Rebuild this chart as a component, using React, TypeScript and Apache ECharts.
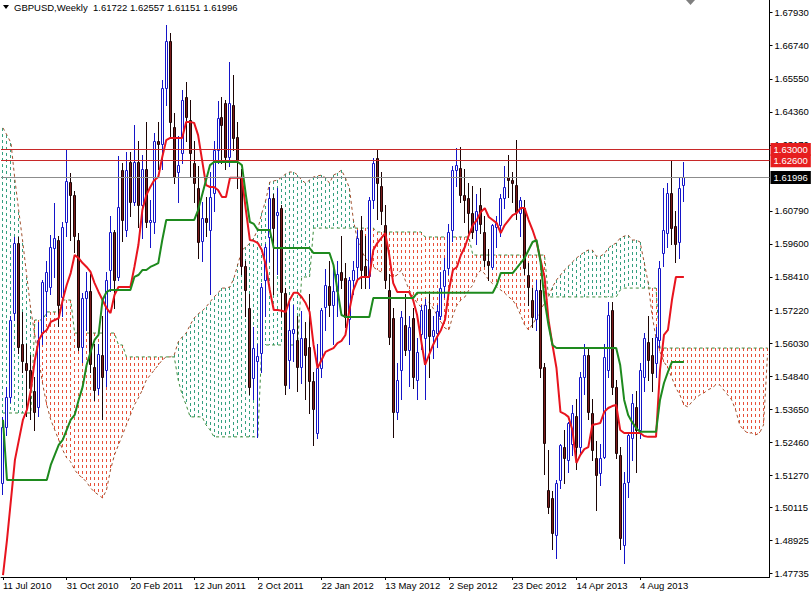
import React, { useEffect, useRef } from 'react';
import * as echarts from 'echarts';

const startWeek = '2010-07-11';
const totalWeeks = 193;
const xTickLabels = ['11 Jul 2010', '31 Oct 2010', '20 Feb 2011', '12 Jun 2011', '2 Oct 2011', '22 Jan 2012', '13 May 2012', '2 Sep 2012', '23 Dec 2012', '14 Apr 2013', '4 Aug 2013'];
const yTickLabels = [1.47735, 1.48925, 1.50115, 1.5127, 1.5246, 1.5365, 1.5484, 1.5603, 1.5722, 1.5841, 1.596, 1.6079, 1.6317, 1.6436, 1.6555, 1.6674, 1.6793];
const yMin = 1.47602;
const yMax = 1.68387;

const opens = [
  1.5100, 1.5300, 1.5410, 1.5710, 1.5962, 1.5600, 1.5530, 1.5505, 1.5430, 1.5373,
  1.5640, 1.5790, 1.5806, 1.5945, 1.5974, 1.5770, 1.6040, 1.6184, 1.6136, 1.5974,
  1.5590, 1.5765, 1.5790, 1.5518, 1.5442, 1.5560, 1.5506, 1.5866, 1.6004, 1.5842,
  1.6226, 1.6010, 1.6256, 1.6112, 1.6256, 1.6100, 1.6230, 1.6040, 1.6040, 1.6330,
  1.6320, 1.6520, 1.6690, 1.6380, 1.6219, 1.6287, 1.6490, 1.6406, 1.6250, 1.6162,
  1.5970, 1.6053, 1.6010, 1.6144, 1.6299, 1.6418, 1.6467, 1.6273, 1.6461, 1.6346,
  1.6200, 1.5880, 1.5730, 1.5476, 1.5540, 1.5566, 1.5830, 1.5986, 1.6125, 1.6064,
  1.6090, 1.5784, 1.5542, 1.5640, 1.5614, 1.5517, 1.5620, 1.5587, 1.5466, 1.5280,
  1.5513, 1.5733, 1.5810, 1.5740, 1.5790, 1.5860, 1.5837, 1.5690, 1.5830, 1.5878,
  1.6010, 1.5880, 1.5846, 1.6118, 1.6270, 1.6170, 1.6028, 1.5794, 1.5693, 1.5356,
  1.5506, 1.5669, 1.5578, 1.5693, 1.5470, 1.5635, 1.5620, 1.5725, 1.5630, 1.5640,
  1.5700, 1.5810, 1.5873, 1.6010, 1.6226, 1.6233, 1.6136, 1.6125, 1.6071, 1.6010,
  1.6100, 1.6004, 1.5900, 1.5877, 1.6020, 1.6028, 1.6125, 1.6200, 1.6190, 1.6172,
  1.6070, 1.6089, 1.5848, 1.5758, 1.5690, 1.5794, 1.5518, 1.5074, 1.5044, 1.4911,
  1.5110, 1.5230, 1.5180, 1.5240, 1.5340, 1.5228, 1.5480, 1.5560, 1.5351, 1.5188,
  1.5135, 1.5194, 1.5506, 1.5722, 1.5446, 1.5200, 1.4876, 1.5104, 1.5260, 1.5374,
  1.5290, 1.5480, 1.5608, 1.5560, 1.5530, 1.5614, 1.5928, 1.5998, 1.6143, 1.6024,
  1.5968, 1.61722
];
const highs = [
  1.5335, 1.5445, 1.5700, 1.5986, 1.5985, 1.5715, 1.5600, 1.5560, 1.5480, 1.5680,
  1.5830, 1.5900, 1.5992, 1.6106, 1.5990, 1.6040, 1.6298, 1.6215, 1.6150, 1.5998,
  1.5785, 1.5860, 1.5850, 1.5600, 1.5600, 1.5700, 1.5860, 1.6060, 1.6010, 1.6275,
  1.6250, 1.6290, 1.6290, 1.6387, 1.6330, 1.6280, 1.6400, 1.6120, 1.6360, 1.6400,
  1.6550, 1.6747, 1.6720, 1.6430, 1.6350, 1.6515, 1.6545, 1.6480, 1.6330, 1.6240,
  1.6110, 1.6130, 1.6220, 1.6330, 1.6475, 1.6490, 1.6480, 1.6617, 1.6570, 1.6400,
  1.6230, 1.5900, 1.5780, 1.5660, 1.5600, 1.5820, 1.5960, 1.6166, 1.6140, 1.6160,
  1.6100, 1.5800, 1.5760, 1.5740, 1.5700, 1.5720, 1.5680, 1.5780, 1.5500, 1.5600,
  1.5730, 1.5870, 1.5900, 1.5880, 1.5900, 1.5990, 1.5890, 1.5840, 1.5900, 1.6010,
  1.6060, 1.5990, 1.6130, 1.6270, 1.6301, 1.6220, 1.6100, 1.5850, 1.5730, 1.5530,
  1.5720, 1.5780, 1.5700, 1.5730, 1.5620, 1.5740, 1.5760, 1.5780, 1.5700, 1.5740,
  1.5860, 1.5910, 1.6030, 1.6240, 1.6305, 1.6310, 1.6230, 1.6180, 1.6170, 1.6140,
  1.6160, 1.6060, 1.5940, 1.6030, 1.6060, 1.6140, 1.6240, 1.6281, 1.6220, 1.6334,
  1.6130, 1.6120, 1.5890, 1.5800, 1.5830, 1.5830, 1.5530, 1.5218, 1.5070, 1.5110,
  1.5240, 1.5290, 1.5320, 1.5380, 1.5400, 1.5500, 1.5600, 1.5580, 1.5400, 1.5250,
  1.5240, 1.5600, 1.5750, 1.5750, 1.5470, 1.5230, 1.5140, 1.5280, 1.5420, 1.5430,
  1.5530, 1.5640, 1.5700, 1.5620, 1.5660, 1.5900, 1.6160, 1.6180, 1.6258, 1.6080,
  1.6200, 1.62557
];
const lows = [
  1.5060, 1.5270, 1.5390, 1.5686, 1.5567, 1.5500, 1.5340, 1.5330, 1.5290, 1.5340,
  1.5600, 1.5700, 1.5780, 1.5840, 1.5665, 1.5700, 1.5990, 1.5975, 1.5930, 1.5578,
  1.5535, 1.5650, 1.5500, 1.5398, 1.5420, 1.5330, 1.5450, 1.5790, 1.5730, 1.5830,
  1.5970, 1.5990, 1.6060, 1.6100, 1.6020, 1.5980, 1.6020, 1.5950, 1.6000, 1.6230,
  1.6230, 1.6460, 1.6350, 1.6180, 1.6110, 1.6250, 1.6330, 1.6200, 1.6110, 1.5911,
  1.5900, 1.5990, 1.5780, 1.6080, 1.6250, 1.6250, 1.6230, 1.6240, 1.6300, 1.6160,
  1.5850, 1.5700, 1.5420, 1.5400, 1.5266, 1.5500, 1.5700, 1.5900, 1.5780, 1.5850,
  1.5700, 1.5420, 1.5440, 1.5540, 1.5430, 1.5460, 1.5400, 1.5350, 1.5234, 1.5260,
  1.5480, 1.5650, 1.5700, 1.5600, 1.5700, 1.5800, 1.5660, 1.5600, 1.5780, 1.5830,
  1.5800, 1.5800, 1.5800, 1.6090, 1.6050, 1.6030, 1.5800, 1.5600, 1.5266, 1.5330,
  1.5400, 1.5560, 1.5450, 1.5440, 1.5400, 1.5580, 1.5400, 1.5480, 1.5550, 1.5590,
  1.5690, 1.5770, 1.5850, 1.5970, 1.6170, 1.6110, 1.6040, 1.6000, 1.5980, 1.5960,
  1.6000, 1.5880, 1.5830, 1.5870, 1.5950, 1.5990, 1.6090, 1.6130, 1.6110, 1.6050,
  1.5990, 1.5850, 1.5740, 1.5660, 1.5650, 1.5480, 1.5132, 1.4990, 1.4860, 1.4828,
  1.5080, 1.5100, 1.5140, 1.5200, 1.5150, 1.5200, 1.5420, 1.5330, 1.5180, 1.5000,
  1.5090, 1.5190, 1.5480, 1.5420, 1.5190, 1.4860, 1.4811, 1.5050, 1.5180, 1.5140,
  1.5260, 1.5430, 1.5470, 1.5430, 1.5480, 1.5590, 1.5880, 1.5950, 1.5960, 1.5895,
  1.5910, 1.61151
];
const closes = [
  1.5300, 1.5410, 1.5685, 1.5962, 1.5590, 1.5540, 1.5505, 1.5440, 1.5355, 1.5614,
  1.5824, 1.5860, 1.5950, 1.5980, 1.5740, 1.6022, 1.6185, 1.6136, 1.5990, 1.5590,
  1.5765, 1.5790, 1.5526, 1.5434, 1.5565, 1.5480, 1.5830, 1.6004, 1.5830, 1.6094,
  1.6046, 1.6226, 1.6112, 1.6256, 1.6100, 1.6230, 1.6040, 1.6045, 1.6330, 1.6320,
  1.6520, 1.6690, 1.6400, 1.6200, 1.6243, 1.6478, 1.6418, 1.6287, 1.6180, 1.5968,
  1.6053, 1.6040, 1.6130, 1.6299, 1.6414, 1.6388, 1.6273, 1.6467, 1.6342, 1.6262,
  1.5880, 1.5795, 1.5446, 1.5584, 1.5555, 1.5806, 1.5950, 1.6125, 1.6017, 1.6075,
  1.5788, 1.5452, 1.5650, 1.5655, 1.5517, 1.5620, 1.5560, 1.5466, 1.5366, 1.5513,
  1.5722, 1.5812, 1.5740, 1.5790, 1.5850, 1.5830, 1.5698, 1.5830, 1.5866, 1.5983,
  1.5866, 1.5846, 1.6118, 1.6252, 1.6180, 1.6080, 1.5830, 1.5626, 1.5356, 1.5470,
  1.5698, 1.5578, 1.5660, 1.5482, 1.5571, 1.5722, 1.5740, 1.5630, 1.5650, 1.5720,
  1.5800, 1.5866, 1.6004, 1.6226, 1.6243, 1.6136, 1.6120, 1.6071, 1.6004, 1.6080,
  1.6033, 1.5902, 1.5885, 1.6028, 1.6037, 1.6125, 1.6165, 1.6190, 1.6180, 1.6075,
  1.6118, 1.5873, 1.5806, 1.5698, 1.5794, 1.5512, 1.5242, 1.5014, 1.4918, 1.5098,
  1.5236, 1.5190, 1.5315, 1.5351, 1.5230, 1.5480, 1.5560, 1.5356, 1.5218, 1.5128,
  1.5188, 1.5554, 1.5705, 1.5446, 1.5206, 1.4900, 1.5098, 1.5272, 1.5387, 1.5290,
  1.5506, 1.5622, 1.5542, 1.5494, 1.5626, 1.5873, 1.6010, 1.6143, 1.6017, 1.5958,
  1.6161, 1.61996
];

const tenkan = [
  1.4767, 1.4893, 1.5038, 1.5182, 1.5254, 1.5326, 1.5362, 1.5434, 1.5542, 1.5614,
  1.5639, 1.5650, 1.5679, 1.5686, 1.5693, 1.5758, 1.5812, 1.5855, 1.5920, 1.5909,
  1.5891, 1.5877, 1.5859, 1.5819, 1.5787, 1.5758, 1.5729, 1.5711, 1.5776, 1.5805,
  1.5805, 1.5805, 1.5805, 1.5877, 1.5956, 1.6082, 1.6136, 1.6165, 1.6190, 1.6201,
  1.6273, 1.6334, 1.6342, 1.6342, 1.6342, 1.6342, 1.6399, 1.6399, 1.6396, 1.6352,
  1.6262, 1.6172, 1.6165, 1.6165, 1.6154, 1.6129, 1.6129, 1.6198, 1.6198, 1.6198,
  1.6198, 1.6082, 1.5974, 1.5971, 1.5963, 1.5938, 1.5884, 1.5794, 1.5722, 1.5722,
  1.5719, 1.5715, 1.5758, 1.5784, 1.5784, 1.5769, 1.5747, 1.5715, 1.5596, 1.5513,
  1.5542, 1.5571, 1.5578, 1.5585, 1.5603, 1.5611, 1.5632, 1.5722, 1.5794, 1.5830,
  1.5841, 1.5841, 1.5841, 1.5938, 1.5963, 1.5981, 1.5999, 1.5920, 1.5819, 1.5787,
  1.5787, 1.5787, 1.5787, 1.5758, 1.5704, 1.5614, 1.5524, 1.5560, 1.5596, 1.5625,
  1.5650, 1.5686, 1.5794, 1.5866, 1.5877, 1.5920, 1.5949, 1.5992, 1.6028, 1.6046,
  1.6075, 1.6089, 1.6057, 1.6046, 1.6035, 1.5999, 1.6028, 1.6046, 1.6064, 1.6071,
  1.6089, 1.6089, 1.6046, 1.6010, 1.5967, 1.5902, 1.5841, 1.5686, 1.5596, 1.5513,
  1.5355, 1.5348, 1.5337, 1.5290, 1.5171, 1.5200, 1.5221, 1.5228, 1.5308, 1.5311,
  1.5315, 1.5355, 1.5369, 1.5376, 1.5380, 1.5290, 1.5279, 1.5279, 1.5279, 1.5279,
  1.5279, 1.5268, 1.5265, 1.5265, 1.5265, 1.5506, 1.5632, 1.5650, 1.5758, 1.5841,
  1.5841, 1.5841
];
const kijun = [
  1.5326, 1.5110, 1.5110, 1.5110, 1.5110, 1.5110, 1.5110, 1.5110, 1.5110, 1.5110,
  1.5110, 1.5110, 1.5164, 1.5200, 1.5236, 1.5254, 1.5290, 1.5326, 1.5344, 1.5398,
  1.5445, 1.5524, 1.5571, 1.5614, 1.5632, 1.5758, 1.5787, 1.5794, 1.5794, 1.5794,
  1.5794, 1.5794, 1.5794, 1.5841, 1.5848, 1.5866, 1.5866, 1.5877, 1.5884, 1.5891,
  1.5974, 1.6046, 1.6046, 1.6046, 1.6046, 1.6046, 1.6046, 1.6046, 1.6046, 1.6082,
  1.6136, 1.6190, 1.6244, 1.6255, 1.6255, 1.6255, 1.6255, 1.6255, 1.6255, 1.6255,
  1.6244, 1.6136, 1.6039, 1.6032, 1.6010, 1.6010, 1.6010, 1.6010, 1.5945, 1.5945,
  1.5945, 1.5945, 1.5945, 1.5945, 1.5945, 1.5945, 1.5945, 1.5945, 1.5927, 1.5927,
  1.5927, 1.5927, 1.5927, 1.5884, 1.5794, 1.5704, 1.5697, 1.5697, 1.5697, 1.5697,
  1.5697, 1.5697, 1.5697, 1.5765, 1.5765, 1.5765, 1.5765, 1.5765, 1.5765, 1.5765,
  1.5765, 1.5765, 1.5765, 1.5765, 1.5784, 1.5784, 1.5784, 1.5784, 1.5784, 1.5784,
  1.5784, 1.5784, 1.5784, 1.5784, 1.5784, 1.5784, 1.5784, 1.5784, 1.5784, 1.5784,
  1.5784, 1.5784, 1.5784, 1.5784, 1.5812, 1.5855, 1.5855, 1.5855, 1.5855, 1.5873,
  1.5891, 1.5909, 1.5938, 1.5967, 1.5974, 1.5895, 1.5758, 1.5668, 1.5596, 1.5585,
  1.5585, 1.5585, 1.5585, 1.5585, 1.5585, 1.5585, 1.5585, 1.5585, 1.5585, 1.5585,
  1.5585, 1.5585, 1.5585, 1.5585, 1.5585, 1.5524, 1.5398, 1.5344, 1.5318, 1.5297,
  1.5283, 1.5283, 1.5283, 1.5283, 1.5283, 1.5398, 1.5459, 1.5499, 1.5535, 1.5535,
  1.5535, 1.5535
];
const spanA = [
  1.6378, 1.6352, 1.6324, 1.6190, 1.6075, 1.5963, 1.5841, 1.5722, 1.5632, 1.5542,
  1.5452, 1.5380, 1.5326, 1.5290, 1.5254, 1.5218, 1.5189, 1.5175, 1.5146, 1.5128,
  1.5117, 1.5102, 1.5081, 1.5066, 1.5056, 1.5045, 1.5074, 1.5146, 1.5200, 1.5236,
  1.5272, 1.5308, 1.5344, 1.5380, 1.5405, 1.5434, 1.5470, 1.5488, 1.5506, 1.5524,
  1.5542, 1.5553, 1.5553, 1.5560, 1.5607, 1.5625, 1.5639, 1.5668, 1.5693, 1.5708,
  1.5718, 1.5733, 1.5751, 1.5769, 1.5783, 1.5801, 1.5801, 1.5805, 1.5837, 1.5888,
  1.5938, 1.5949, 1.5963, 1.5981, 1.6014, 1.6071, 1.6118, 1.6183, 1.6187, 1.6190,
  1.6201, 1.6212, 1.6219, 1.6219, 1.6208, 1.6190, 1.6179, 1.6190, 1.6201, 1.6205,
  1.6208, 1.6198, 1.6179, 1.6208, 1.6215, 1.6226, 1.6198, 1.6161, 1.6046, 1.5974,
  1.5938, 1.5909, 1.5891, 1.5877, 1.5866, 1.5859, 1.5855, 1.5848, 1.5841, 1.5848,
  1.5866, 1.5830, 1.5794, 1.5772, 1.5747, 1.5733, 1.5740, 1.5751, 1.5729, 1.5704,
  1.5679, 1.5657, 1.5650, 1.5704, 1.5740, 1.5758, 1.5769, 1.5794, 1.5812, 1.5848,
  1.5866, 1.5852, 1.5830, 1.5816, 1.5805, 1.5794, 1.5783, 1.5769, 1.5758, 1.5736,
  1.5704, 1.5668, 1.5650, 1.5671, 1.5693, 1.5722, 1.5747, 1.5769, 1.5805, 1.5830,
  1.5848, 1.5866, 1.5880, 1.5895, 1.5909, 1.5920, 1.5931, 1.5938, 1.5938, 1.5916,
  1.5916, 1.5924, 1.5945, 1.5956, 1.5963, 1.5981, 1.5988, 1.5992, 1.5974, 1.5974,
  1.5967, 1.5895, 1.5823, 1.5704, 1.5621, 1.5571, 1.5535, 1.5513, 1.5477, 1.5441,
  1.5416, 1.5380, 1.5373, 1.5391, 1.5405, 1.5416, 1.5423, 1.5434, 1.5441, 1.5452,
  1.5452, 1.5434, 1.5416, 1.5398, 1.5362, 1.5308, 1.5290, 1.5279, 1.5279, 1.5272,
  1.5279, 1.5308, 1.5560
];
// [fromIndex, toIndex, value] flat steps of Senkou Span B
const spanBRuns = [
  [0, 7, 1.5351], [8, 10, 1.5686], [11, 14, 1.5715], [15, 17, 1.5758], [18, 28, 1.5639],
  [29, 30, 1.5596], [31, 43, 1.5553], [44, 44, 1.547], [45, 45, 1.5416], [46, 46, 1.538],
  [47, 50, 1.5337], [51, 51, 1.5308], [52, 52, 1.529], [53, 64, 1.5265], [65, 74, 1.5596],
  [75, 77, 1.5841], [78, 93, 1.6017], [94, 105, 1.6003], [106, 117, 1.5985], [118, 136, 1.592],
  [137, 154, 1.5769], [155, 155, 1.5794], [156, 164, 1.5801], [165, 192, 1.5585]
];
const levelLines = [1.63, 1.626];
const symbolName = 'GBPUSD,Weekly';

const FONT = '"Liberation Sans", Arial, sans-serif';
const MONTHS = ['Jan', 'Feb', 'Mar', 'Apr', 'May', 'Jun', 'Jul', 'Aug', 'Sep', 'Oct', 'Nov', 'Dec'];
const BULL_EDGE = '#1414c8';
const BEAR_EDGE = '#1c0404';
const BEAR_FILL = '#7a1c1c';

function buildCategories(): string[] {
  const out: string[] = [];
  const t0 = Date.parse(startWeek + 'T00:00:00Z');
  for (let i = 0; i < totalWeeks; i++) {
    const d = new Date(t0 + i * 7 * 86400000);
    out.push(`${d.getUTCDate()} ${MONTHS[d.getUTCMonth()]} ${d.getUTCFullYear()}`);
  }
  return out;
}

export default function App() {
  const ref = useRef<HTMLDivElement>(null);
  useEffect(() => {
    if (!ref.current) return;
    const chart = echarts.init(ref.current, undefined, { renderer: 'svg' });
    const categories = buildCategories();
    const candleData = opens.map((o, i) => [i, o, closes[i], lows[i], highs[i]]);
    const spanB: number[] = new Array(totalWeeks).fill(NaN);
    spanBRuns.forEach(([a, b, v]) => {
      for (let k = a; k <= b; k++) spanB[k] = v;
    });
    const cloud = spanA.map((a, i) => [i, a, spanB[i]]);
    const last = opens.length - 1;
    const header = `${symbolName}  ${opens[last].toFixed(5)} ${highs[last].toFixed(5)} ${lows[last].toFixed(5)} ${closes[last].toFixed(5)}`;
    const bid = closes[last];
    const showTick = (idx: number, val: string) => xTickLabels.indexOf(val) >= 0;

    const tagLabel = (bg: string) => ({
      show: true,
      position: 'end',
      distance: 1,
      formatter: (p: any) => Number(p.value).toFixed(5),
      backgroundColor: bg,
      color: '#ffffff',
      fontFamily: FONT,
      fontSize: 9.5,
      padding: [2, 3, 1, 3],
    });

    chart.setOption({
      animation: false,
      backgroundColor: '#ffffff',
      grid: { left: -2.5, right: 42.5, top: 0, bottom: 17, containLabel: false },
      xAxis: {
        type: 'category',
        data: categories,
        boundaryGap: true,
        axisLine: { show: true, lineStyle: { color: '#000000', width: 1 } },
        axisTick: { show: true, interval: showTick, alignWithLabel: true, length: 3, lineStyle: { color: '#000000' } },
        axisLabel: {
          show: true,
          interval: showTick,
          align: 'left',
          margin: 3,
          color: '#000000',
          fontFamily: FONT,
          fontSize: 9.5,
        },
        splitLine: { show: false },
      },
      yAxis: {
        type: 'value',
        position: 'right',
        min: yMin,
        max: yMax,
        scale: true,
        axisLine: { show: true, lineStyle: { color: '#000000', width: 1 } },
        axisTick: { show: true, length: 3, customValues: yTickLabels, lineStyle: { color: '#000000' } },
        axisLabel: {
          show: true,
          customValues: yTickLabels,
          formatter: (v: number) => v.toFixed(5),
          margin: 5,
          color: '#000000',
          fontFamily: FONT,
          fontSize: 9.5,
        },
        splitLine: { show: false },
      },
      graphic: [
        { type: 'polygon', shape: { points: [[3, 5], [9, 5], [6, 9]] }, style: { fill: '#000000' }, z: 100 },
        { type: 'text', left: 14, top: 2, style: { text: header, fill: '#000000', font: `9.5px ${FONT}` }, z: 100 },
        { type: 'polygon', shape: { points: [[686, 0], [695, 0], [690.5, 5]] }, style: { fill: '#7f7f7f' }, z: 100 },
      ],
      series: [
        {
          type: 'custom',
          name: 'kumo',
          z: 1,
          clip: true,
          silent: true,
          encode: { x: 0, y: [1, 2] },
          data: cloud,
          renderItem: (params: any, api: any) => {
            const i = api.value(0);
            const a = api.value(1);
            const b = api.value(2);
            if (isNaN(a) || isNaN(b)) return null;
            const p1 = api.coord([i, a]);
            const p2 = api.coord([i, b]);
            const x = Math.floor(p1[0]) + 0.5;
            const y1 = Math.round(Math.min(p1[1], p2[1]));
            const y2 = Math.round(Math.max(p1[1], p2[1]));
            return {
              type: 'line',
              shape: { x1: x, y1, x2: x, y2 },
              style: { stroke: a >= b ? '#35a080' : '#e8503a', lineWidth: 1, lineDash: [3, 3] },
            };
          },
        },
        {
          type: 'line',
          name: 'Senkou A',
          z: 2,
          data: spanA,
          showSymbol: false,
          silent: true,
          lineStyle: { color: '#a0502d', width: 1, type: [3, 3] },
        },
        {
          type: 'line',
          name: 'Senkou B',
          z: 2,
          data: spanB.map((v) => (isNaN(v) ? null : v)),
          showSymbol: false,
          silent: true,
          lineStyle: { color: '#3c8c3c', width: 1, type: [3, 3] },
        },
        {
          type: 'custom',
          name: 'GBPUSD',
          z: 3,
          clip: true,
          silent: true,
          encode: { x: 0, y: [1, 2, 3, 4] },
          data: candleData,
          renderItem: (params: any, api: any) => {
            const i = api.value(0);
            const o = api.value(1);
            const c = api.value(2);
            const l = api.value(3);
            const h = api.value(4);
            const pO = api.coord([i, o]);
            const cx = Math.floor(pO[0]);
            const yO = Math.round(pO[1]);
            const yC = Math.round(api.coord([i, c])[1]);
            const yH = Math.round(api.coord([i, h])[1]);
            const yL = Math.round(api.coord([i, l])[1]);
            const top = Math.min(yO, yC);
            const bot = Math.max(yO, yC);
            const bull = c >= o;
            const edge = bull ? BULL_EDGE : BEAR_EDGE;
            return {
              type: 'group',
              children: [
                { type: 'line', shape: { x1: cx + 0.5, y1: yH, x2: cx + 0.5, y2: yL + 1 }, style: { stroke: edge, lineWidth: 1 } },
                {
                  type: 'rect',
                  shape: { x: cx - 0.5, y: top + 0.5, width: 2, height: Math.max(bot - top, 0) },
                  style: { fill: bull ? '#ffffff' : BEAR_FILL, stroke: edge, lineWidth: 1 },
                },
              ],
            };
          },
        },
        {
          type: 'line',
          name: 'Tenkan',
          z: 4,
          data: tenkan,
          showSymbol: false,
          silent: true,
          lineStyle: { color: '#e8141e', width: 2 },
        },
        {
          type: 'line',
          name: 'Kijun',
          z: 4,
          data: kijun,
          showSymbol: false,
          silent: true,
          lineStyle: { color: '#1e8a1e', width: 2 },
          markLine: {
            silent: true,
            symbol: ['none', 'none'],
            precision: 5,
            animation: false,
            data: [
              ...levelLines.map((v) => ({ yAxis: v, lineStyle: { color: '#c82828', width: 1, type: 'solid' }, label: tagLabel('#e61e1e') })),
              { yAxis: bid, lineStyle: { color: '#8c8c8c', width: 1, type: 'solid' }, label: tagLabel('#000000') },
            ],
          },
        },
      ],
    });
    return () => chart.dispose();
  }, []);
  return <div ref={ref} style={{ position: 'absolute', left: 0, top: 0, width: 812, height: 594, background: '#fff' }} />;
}
